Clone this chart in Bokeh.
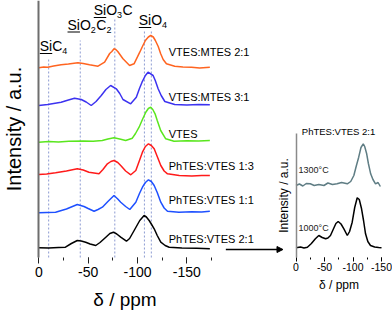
from bokeh.plotting import figure
from bokeh.models import (Range1d, LinearAxis, SingleIntervalTicker, FixedTicker,
                          Arrow, NormalHead)
from bokeh.core.properties import value
from bokeh.embed import file_html
from bokeh.resources import INLINE

# ---------------- data (main panel: delta / ppm vs stacked intensity) -------------
orange_ppm = [0, -5, -9, -15, -22.6, -30, -39.6, -45, -51.4, -60, -66.7, -71.8, -74, -76.2, -78, -80,
              -85.3, -92, -96.5, -102.3, -105, -108, -111, -113.4, -116, -118.1, -121, -123.5, -126,
              -129.3, -137.7, -146, -154.7, -163, -173.3]
orange_int = [189.7, 190.5, 190.3, 191.5, 192.7, 193.5, 194.7, 194, 192.7, 191.3, 195.3, 204, 206, 208.7,
              208, 206, 198.7, 192, 193.7, 205.3, 211, 217, 220.5, 222, 220.5, 217, 211, 203.7, 198,
              193.7, 191.3, 190.5, 190.3, 189.5, 190.3]

blue31_ppm = [0, -9, -22.6, -30, -36.2, -43, -48, -53.1, -58, -63.3, -68, -72.8, -78.5, -82, -85.3, -93.1,
              -98.8, -102, -104.6, -108, -110.7, -115.8, -118, -120.9, -124, -127.7, -137.7, -150, -162,
              -173.3]
blue31_int = [152, 153, 155.3, 157.5, 159.3, 158, 155.5, 152, 156, 162, 168, 172, 168.7, 164, 158, 153.7,
              160.3, 169, 175.3, 182, 185.3, 182, 177, 168.7, 162, 156, 153, 152.5, 153, 152.7]

green_ppm = [0, -10, -20, -30.4, -45, -55, -64.3, -70, -76.2, -82, -88, -94.8, -98, -101.6, -105, -108.4,
             -111, -113.4, -115.5, -117.8, -120, -123.5, -128.6, -137, -150, -162, -173.3]
green_int = [115.3, 116, 115.5, 116.3, 116.5, 116.2, 117, 118.5, 119.7, 118.5, 117, 119.3, 124, 130.3, 138,
             145.3, 149, 150.3, 148, 143.7, 137, 127, 118.7, 116.3, 116.7, 116.5, 117]

red_ppm = [0, -8, -17, -28, -39, -45, -50.8, -61, -65, -69.5, -73, -76.2, -80, -83, -88, -93.2, -98.3, -102,
           -105, -108, -111.1, -114, -116.9, -120, -123.6, -127, -130.4, -142.3, -155, -165, -173.3]
red_int = [83, 83.5, 84.7, 86.5, 88.7, 87.5, 85.3, 83.7, 88, 93.7, 96, 97, 95, 92, 86.5, 82.7, 87, 97, 105.3,
           111, 113.7, 112, 108.7, 101, 92, 86.5, 83.7, 82, 81.5, 82, 82]

blue11_ppm = [0, -8, -17, -28, -39, -45.8, -50, -56, -60, -64.4, -70, -76.2, -80, -83, -88, -92.2, -98.3,
              -102, -105, -108, -111.1, -114, -116.9, -120, -123.6, -127, -130.4, -142, -155, -165, -173.3]
blue11_int = [44.7, 45, 45.3, 48.5, 53, 51, 49, 46.3, 48, 50.3, 56, 62, 58.5, 55.3, 51, 48, 55.3, 64, 70.3,
              75, 77.7, 76, 72, 65, 55.3, 49.5, 46.3, 45.3, 45.8, 45.5, 46.3]

black_ppm = [0, -10, -20, -27, -33, -39, -43, -47.5, -52, -57.7, -62, -67.9, -72, -75.6, -79, -83, -88.8,
             -92, -96.6, -100, -102.3, -106.7, -109, -111.8, -114, -116.9, -120, -123.6, -128, -132.1,
             -145, -160, -173.3]
black_int = [9.7, 9.5, 10, 10.3, 14, 17, 16.5, 15.3, 13.5, 12, 15, 20.3, 24, 25.3, 23.5, 20.3, 16.3, 19, 27,
             33, 37, 42, 40.5, 37, 33.5, 28.7, 22, 15.3, 12, 10.3, 9.5, 9.2, 8.7]

series_names = ["VTES:MTES 2:1", "VTES:MTES 3:1", "VTES", "PhTES:VTES 1:3", "PhTES:VTES 1:1",
                "PhTES:VTES 2:1"]
series_colors = ["#ff6420", "#3c32f0", "#5ae61e", "#ff1a1a", "#1e50ff", "#000000"]

# reference shifts (dashed lines)
ref_ppm = [-10, -42, -77, -107, -114]

# ---------------- inset data: PhTES:VTES 2:1 at two temperatures ----------------
i1300_ppm = [0, -6, -12, -18, -25, -32, -40, -49, -56, -64, -72, -80, -90, -96, -101.5, -106, -110, -114,
             -118, -120.5, -124, -127, -131, -135, -139.5, -144, -148]
i1300_int = [72, 73.5, 71.5, 74, 73.7, 72, 73, 72, 74.5, 73, 73.7, 75, 73.7, 76, 82, 92, 100.3, 110, 113.7,
             111, 103.7, 94, 83.7, 78, 73.7, 75, 71]
i1000_ppm = [0, -8, -14, -20, -27, -34, -40, -46, -52, -56, -60.5, -66, -70, -74, -79, -84, -90, -94, -98.6,
             -103, -107.4, -111, -115, -118.5, -122, -126, -130.7, -138, -145, -150]
i1000_int = [9.7, 10.5, 9.5, 10.3, 14, 18.7, 22, 20, 18.7, 19.5, 22, 29, 34, 36, 33.5, 28.7, 22, 26, 35.3,
             50, 59.7, 58, 48.7, 37, 23.7, 16, 12, 10.5, 10, 9.7]
inset_names = ["1300°C", "1000°C"]
inset_colors = ["#5f7d84", "#000000"]
inset_title = "PhTES:VTES 2:1"

main_ticks = [0, -50, -100, -150]
main_tick_labels = ["0", "-50", "-100", "-150"]

# ---------------- layout (frame covers the whole canvas; axes are pinned) ----------------
FONT = "Liberation Sans"
W, H = 392, 314
X0 = 38.3                 # px of 0 ppm (main)
PX_PER_PPM = 0.987        # main panel scale
IX0 = 295.5               # px of 0 ppm (inset)
INSET_PX_PER_PPM = 0.57
Y0 = 257                  # px of intensity 0 (common baseline)

p = figure(width=W, height=H, output_backend="svg", toolbar_location=None,
           x_axis_type=None, y_axis_type=None,
           x_range=Range1d(X0 / PX_PER_PPM, -(W - X0) / PX_PER_PPM),
           y_range=Range1d(Y0 - H, Y0),
           min_border_left=0, min_border_right=0, min_border_top=0, min_border_bottom=0)
p.extra_x_ranges = {"inset": Range1d(IX0 / INSET_PX_PER_PPM, -(W - IX0) / INSET_PX_PER_PPM)}
p.outline_line_color = None
p.background_fill_color = "white"
p.border_fill_color = "white"

ppm_per_px = 1 / PX_PER_PPM

# dashed reference lines
ref_tops = [198, 217, 240, 227, 227]
p.segment(x0=ref_ppm, y0=[0] * len(ref_ppm), x1=ref_ppm, y1=ref_tops,
          line_color="#8c9bd2", line_width=1, line_dash="2 2")

# spectra
all_series = [(orange_ppm, orange_int), (blue31_ppm, blue31_int), (green_ppm, green_int),
              (red_ppm, red_int), (blue11_ppm, blue11_int), (black_ppm, black_int)]
for (xs, ys), c in zip(all_series, series_colors):
    p.line(xs, ys, line_color=c, line_width=1.5)

# series labels
lab_y = [206, 161, 124, 92, 58, 19]
p.text(x=[-131.7] * 6, y=lab_y, text=series_names, text_font=value(FONT),
       text_font_size=value("11px"), text_baseline="middle", text_align="left", text_color="black")

# species labels with subscripts and underlined Si
BIG, SMALL = 14, 9
W_S, W_i, W_O, W_C, W_d = 0.667, 0.222, 0.778, 0.722, 0.556
species = [
    # left ppm, baseline (intensity units = px), pieces
    (-1.0, 206, [("SiC", True), ("4", False)]),
    (-29.1, 227.5, [("SiO", True), ("2", False), ("C", True), ("2", False)]),
    (-55.7, 242, [("SiO", True), ("3", False), ("C", True)]),
    (-101.3, 232, [("SiO", True), ("4", False)]),
]
widths = {"SiC": (W_S + W_i + W_C) * BIG, "SiO": (W_S + W_i + W_O) * BIG, "C": W_C * BIG}
cap_half = 0.36 * BIG
for ax, by, pieces in species:
    dx = 0.0
    for txt, big in pieces:
        p.text(x=[ax], y=[by + cap_half], text=[txt], x_offset=dx, y_offset=0 if big else 5,
               text_font=value(FONT), text_font_size=value(f"{BIG if big else SMALL}px"),
               text_baseline="middle", text_align="left", text_color="black")
        dx += widths[txt] if big else W_d * SMALL + 0.5
    uw = (W_S + W_i) * BIG * ppm_per_px
    p.segment(x0=[ax], y0=[by - 2], x1=[ax - uw], y1=[by - 2], line_color="black", line_width=1.2)

# main axes
xax = LinearAxis(fixed_location=0, bounds=(-175, 0),
                 ticker=SingleIntervalTicker(interval=50, num_minor_ticks=2))
xax.axis_line_color = None
xax.major_tick_in = 0
xax.major_tick_out = 6
xax.minor_tick_in = 0
xax.minor_tick_out = 3
xax.major_tick_line_color = "#222222"
xax.minor_tick_line_color = "#222222"
xax.major_label_overrides = dict(zip(main_ticks, main_tick_labels))
xax.major_label_text_font = FONT
xax.major_label_text_font_size = "14px"
xax.major_label_text_color = "black"
xax.major_label_standoff = 3
xax.axis_label = "δ / ppm"
xax.axis_label_text_font = FONT
xax.axis_label_text_font_size = "19px"
xax.axis_label_text_font_style = "normal"
xax.axis_label_text_color = "black"
xax.axis_label_standoff = 9
p.add_layout(xax, "below")

yax = LinearAxis(fixed_location=0, bounds=(0, Y0), ticker=FixedTicker(ticks=[], minor_ticks=[]))
yax.axis_line_color = "#6e6e6e"
yax.axis_line_width = 2
yax.major_label_text_font_size = "0px"
yax.axis_label = "Intensity / a.u."
yax.axis_label_text_font = FONT
yax.axis_label_text_font_size = "20px"
yax.axis_label_text_font_style = "normal"
yax.axis_label_text_color = "black"
yax.axis_label_standoff = 14
p.add_layout(yax, "left")

# arrow to inset
p.add_layout(Arrow(end=NormalHead(size=6, fill_color="black", line_color="black"),
                   x_start=-189.5, y_start=8, x_end=-247.4, y_end=8,
                   line_color="black", line_width=1.3))

# inset spectra
for xs, ys, c in [(i1300_ppm, i1300_int, inset_colors[0]), (i1000_ppm, i1000_int, inset_colors[1])]:
    p.line(xs, ys, line_color=c, line_width=1.5, x_range_name="inset")

p.text(x=[-4.4, -4.4], y=[88, 30], text=inset_names, x_range_name="inset",
       text_font=value(FONT), text_font_size=value("9px"), text_baseline="middle",
       text_align="left", text_color="#222222")
p.text(x=[-74.6], y=[126], text=[inset_title], x_range_name="inset",
       text_font=value(FONT), text_font_size=value("9.5px"), text_baseline="middle",
       text_align="center", text_color="black")

ixax = LinearAxis(x_range_name="inset", fixed_location=0, bounds=(-150, 0),
                  ticker=SingleIntervalTicker(interval=50, num_minor_ticks=2))
ixax.axis_line_color = None
ixax.major_tick_in = 0
ixax.major_tick_out = 4
ixax.minor_tick_in = 0
ixax.minor_tick_out = 2
ixax.major_label_overrides = dict(zip(main_ticks, main_tick_labels))
ixax.major_label_text_font = FONT
ixax.major_label_text_font_size = "10.5px"
ixax.major_label_text_color = "black"
ixax.major_label_standoff = 1
ixax.axis_label = "δ / ppm"
ixax.axis_label_text_font = FONT
ixax.axis_label_text_font_size = "12px"
ixax.axis_label_text_font_style = "normal"
ixax.axis_label_text_color = "black"
ixax.axis_label_standoff = 4
p.add_layout(ixax, "below")

iyax = LinearAxis(x_range_name="inset", fixed_location=0, bounds=(0, 124),
                  ticker=FixedTicker(ticks=[], minor_ticks=[]))
iyax.axis_line_color = "#8a8a8a"
iyax.axis_line_width = 1.5
iyax.major_label_text_font_size = "0px"
iyax.axis_label = "Intensity / a.u."
iyax.axis_label_text_font = FONT
iyax.axis_label_text_font_size = "12px"
iyax.axis_label_text_font_style = "normal"
iyax.axis_label_text_color = "black"
iyax.axis_label_standoff = 6
p.add_layout(iyax, "left")

open("out.html", "w").write(file_html(p, INLINE))
